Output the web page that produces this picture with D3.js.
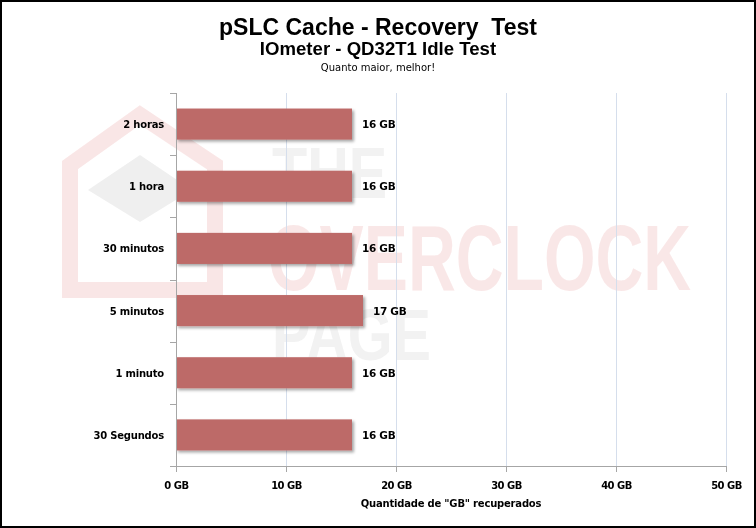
<!DOCTYPE html>
<html><head><meta charset="utf-8">
<script src="https://cdn.jsdelivr.net/npm/d3@7"></script>
<style>body{margin:0;background:#fff}svg{display:block}</style>
</head><body>
<svg id="c" width="756" height="528"></svg>
<script>
const categories = ["2 horas","1 hora","30 minutos","5 minutos","1 minuto","30 Segundos"];
const values = [16,16,16,17,16,16];
const valueLabels = ["16 GB","16 GB","16 GB","17 GB","16 GB","16 GB"];
const xTicks = [0,10,20,30,40,50];
const xTickLabels = ["0 GB","10 GB","20 GB","30 GB","40 GB","50 GB"];

const svg = d3.select("#c");
const W=756,H=528;
const m={l:176,r:30,t:93,b:62};
const x=d3.scaleLinear().domain([0,50]).range([m.l,W-m.r]);
const y=d3.scaleBand().domain(categories).range([m.t,H-m.b]).paddingInner(0.5).paddingOuter(0.25);
const yEdges=d3.scaleLinear().domain([0,categories.length]).range([m.t,H-m.b]);

// watermark
const wm=svg.append("g").attr("opacity",0.6);
wm.append("path").attr("d","M70,165 L140,115 L215,165 L215,290 L70,290 Z").attr("fill","none").attr("stroke","#f6d6d6").attr("stroke-width",16);
wm.append("path").attr("d","M88,190 L140,155 L192,190 L140,222 Z").attr("fill","#e4e4e4");
wm.append("text").attr("transform","translate(272,198) scale(0.8,1)").text("THE").attr("font-family","Liberation Sans, Arial").attr("font-weight","bold").attr("font-size",72).attr("fill","#e9e9e9");
wm.append("text").attr("transform","translate(268,290) scale(0.72,1)").text("OVERCLOCK").attr("font-family","Liberation Sans, Arial").attr("font-weight","bold").attr("font-size",92).attr("fill","#f6d8d8");
wm.append("text").attr("transform","translate(272,360) scale(0.8,1)").text("PAGE").attr("font-family","Liberation Sans, Arial").attr("font-weight","bold").attr("font-size",72).attr("fill","#e9e9e9");

// border
svg.append("rect").attr("x",1).attr("y",1).attr("width",W-2).attr("height",H-2).attr("fill","none").attr("stroke","#000").attr("stroke-width",2);

// grid
svg.append("g").selectAll("line").data(xTicks.slice(1)).join("line")
  .attr("x1",d=>Math.round(x(d))+0.5).attr("x2",d=>Math.round(x(d))+0.5)
  .attr("y1",m.t).attr("y2",H-m.b).attr("stroke","#d5deec").attr("stroke-width",1);

// bars shadow
const defs=svg.append("defs");
const f=defs.append("filter").attr("id","sh").attr("x","-10%").attr("y","-20%").attr("width","130%").attr("height","160%");
f.append("feGaussianBlur").attr("in","SourceAlpha").attr("stdDeviation",1.5);
f.append("feOffset").attr("dx",2).attr("dy",2).attr("result","b");
f.append("feComponentTransfer").append("feFuncA").attr("type","linear").attr("slope",0.35);
const mg=f.append("feMerge"); mg.append("feMergeNode"); mg.append("feMergeNode").attr("in","SourceGraphic");

svg.append("g").selectAll("rect").data(values).join("rect")
  .attr("x",x(0)).attr("y",(d,i)=>y(categories[i]))
  .attr("width",d=>x(d)-x(0)).attr("height",y.bandwidth())
  .attr("fill","#bd6a68").attr("filter","url(#sh)");

// value labels
svg.append("g").selectAll("text").data(values).join("text")
  .attr("x",d=>x(d)+10).attr("y",(d,i)=>y(categories[i])+y.bandwidth()/2+4)
  .text((d,i)=>valueLabels[i])
  .attr("font-family","DejaVu Sans, Verdana").attr("font-weight","bold").attr("font-size",10.5).attr("fill","#000").attr("letter-spacing","-0.3");

// axes
const xa=svg.append("g").attr("transform",`translate(0,${H-m.b})`)
  .call(d3.axisBottom(x).tickValues(xTicks).tickFormat((d,i)=>xTickLabels[i]).tickSize(6).tickPadding(10));
xa.select(".domain").attr("stroke","#a6a6a6");
xa.selectAll(".tick line").attr("stroke","#a6a6a6");
xa.selectAll("text").attr("font-family","DejaVu Sans, Verdana").attr("font-weight","bold").attr("font-size",10).attr("fill","#000").attr("letter-spacing","-0.5");

const ya=svg.append("g").attr("transform",`translate(${m.l},0)`);
ya.append("line").attr("x1",0.5).attr("x2",0.5).attr("y1",m.t).attr("y2",H-m.b).attr("stroke","#a6a6a6");
ya.selectAll("line.t").data(d3.range(categories.length+1)).join("line").attr("class","t")
  .attr("x1",-6).attr("x2",0).attr("y1",d=>Math.round(yEdges(d))+0.5).attr("y2",d=>Math.round(yEdges(d))+0.5).attr("stroke","#a6a6a6");
ya.selectAll("text").data(categories).join("text")
  .attr("x",-12).attr("y",d=>y(d)+y.bandwidth()/2+4).attr("text-anchor","end").text(d=>d)
  .attr("font-family","DejaVu Sans, Verdana").attr("font-weight","bold").attr("font-size",10).attr("fill","#000").attr("letter-spacing","-0.2");

// titles
const tt=svg.append("g").attr("text-anchor","middle").attr("fill","#000");
tt.append("text").attr("x",378).attr("y",35).text("pSLC Cache - Recovery  Test").attr("font-family","Liberation Sans, Arial").attr("font-weight","bold").attr("font-size",23).style("white-space","pre");
tt.append("text").attr("x",378).attr("y",55).text("IOmeter - QD32T1 Idle Test").attr("font-family","Liberation Sans, Arial").attr("font-weight","bold").attr("font-size",18.6);
tt.append("text").attr("x",378).attr("y",71).text("Quanto maior, melhor!").attr("font-family","DejaVu Sans, Verdana").attr("font-size",10);
svg.append("text").attr("x",x(25)).attr("y",507).attr("text-anchor","middle").text('Quantidade de "GB" recuperados')
  .attr("font-family","DejaVu Sans, Verdana").attr("font-weight","bold").attr("font-size",10).attr("fill","#000").attr("letter-spacing","-0.2");
</script>
</body></html>
